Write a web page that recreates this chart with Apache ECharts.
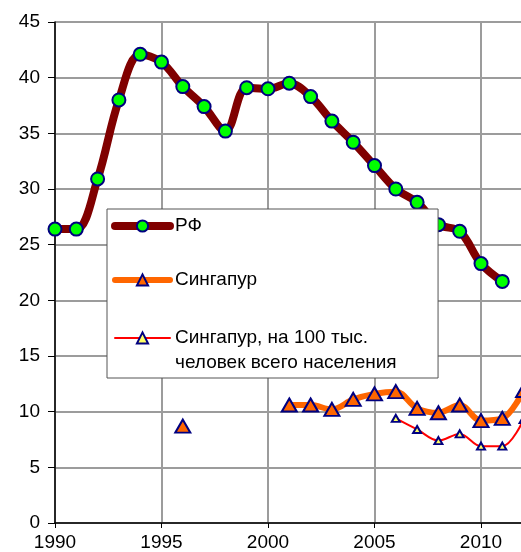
<!DOCTYPE html>
<html>
<head>
<meta charset="utf-8">
<script src="https://cdn.jsdelivr.net/npm/echarts@6/dist/echarts.min.js"></script>
<style>html,body{margin:0;padding:0;background:#fff}#c{width:521px;height:552px}</style>
</head>
<body>
<div id="c"></div>
<script>
var years = [1990,1991,1992,1993,1994,1995,1996,1997,1998,1999,2000,2001,2002,2003,2004,2005,2006,2007,2008,2009,2010,2011,2012];
var rf = [26.4,26.4,30.9,38.0,42.1,41.4,39.2,37.4,35.2,39.1,39.0,39.5,38.3,36.1,34.2,32.1,30.0,28.8,26.8,26.2,23.3,21.7,null];
var singapore = [null,null,null,null,null,null,8.7,null,null,null,null,10.6,10.6,10.2,11.1,11.6,11.8,10.3,9.9,10.6,9.2,9.4,11.9];
var singapore100k = [null,null,null,null,null,null,null,null,null,null,null,null,null,null,null,null,9.4,8.4,7.4,8.0,6.9,6.9,9.3];
var seriesNames = ['РФ','Сингапур','Сингапур, на 100 тыс.\nчеловек всего населения'];
var yTicks = [0,5,10,15,20,25,30,35,40,45];

function pairs(arr){ return years.map(function(y,i){ return [y, arr[i]]; }); }

var chart = echarts.init(document.getElementById('c'), null, {renderer:'canvas'});
var font = 'Liberation Sans, Arial, sans-serif';
var legendText = {color:'#000', fontSize:19, fontFamily:font, lineHeight:20};
chart.setOption({
  animation:false,
  backgroundColor:'#fff',
  grid:{left:55, top:22, width:532.5, height:501, containLabel:false, outerBoundsMode:'none'},
  xAxis:{
    type:'value', min:1990, max:2015, interval:5,
    axisLine:{show:true, onZero:false, lineStyle:{color:'#000', width:1.5}},
    axisTick:{show:true, length:5, lineStyle:{color:'#000'}},
    axisLabel:{color:'#000', fontSize:19, fontFamily:font, margin:10, showMaxLabel:false, formatter:function(v){return String(v);}},
    splitLine:{show:true, lineStyle:{color:'#9c9c9c', width:2}}
  },
  yAxis:{
    type:'value', min:yTicks[0], max:yTicks[yTicks.length-1], interval:5,
    axisLine:{show:true, lineStyle:{color:'#000', width:1.5}},
    axisTick:{show:true, length:7, lineStyle:{color:'#000'}},
    axisLabel:{color:'#000', fontSize:19, fontFamily:font, margin:15},
    splitLine:{show:true, lineStyle:{color:'#9c9c9c', width:2}}
  },
  legend:[
    {
      orient:'vertical', left:107, top:209, z:4,
      backgroundColor:'#fff', borderColor:'#555', borderWidth:1,
      padding:[7,181,88,4], itemGap:34, itemWidth:55, itemHeight:14,
      lineStyle:{width:'inherit', cap:'round'},
      textStyle:legendText,
      data:[seriesNames[0], seriesNames[1]]
    },
    {
      orient:'vertical', left:114, top:300.5, z:5,
      padding:0, itemWidth:55, itemHeight:14,
      lineStyle:{width:'inherit', cap:'round'},
      textStyle:{color:'#000', fontSize:19, fontFamily:font, lineHeight:25},
      formatter:function(n){ return '\n' + n; },
      data:[seriesNames[2]]
    }
  ],
  series:[
    {
      name:seriesNames[0], type:'line', data:pairs(rf), smooth:0.35,
      showAllSymbol:true, symbol:'circle', symbolSize:13,
      lineStyle:{color:'#800000', width:8, cap:'round'},
      itemStyle:{color:'#00ff00', borderColor:'#000080', borderWidth:2},
      z:3
    },
    {
      name:seriesNames[1], type:'line', data:pairs(singapore), smooth:0.35,
      showAllSymbol:true, symbol:'triangle', symbolSize:[15,13],
      lineStyle:{color:'#ff6600', width:6, cap:'round'},
      itemStyle:{color:'#ff6600', borderColor:'#000080', borderWidth:2},
      z:2
    },
    {
      name:seriesNames[2], type:'line', data:pairs(singapore100k), smooth:0.35,
      showAllSymbol:true, symbol:'triangle', symbolSize:[8,7],
      lineStyle:{color:'#ff0000', width:2},
      itemStyle:{color:'#ffff66', borderColor:'#000080', borderWidth:2},
      z:2
    }
  ]
});
</script>
</body>
</html>
